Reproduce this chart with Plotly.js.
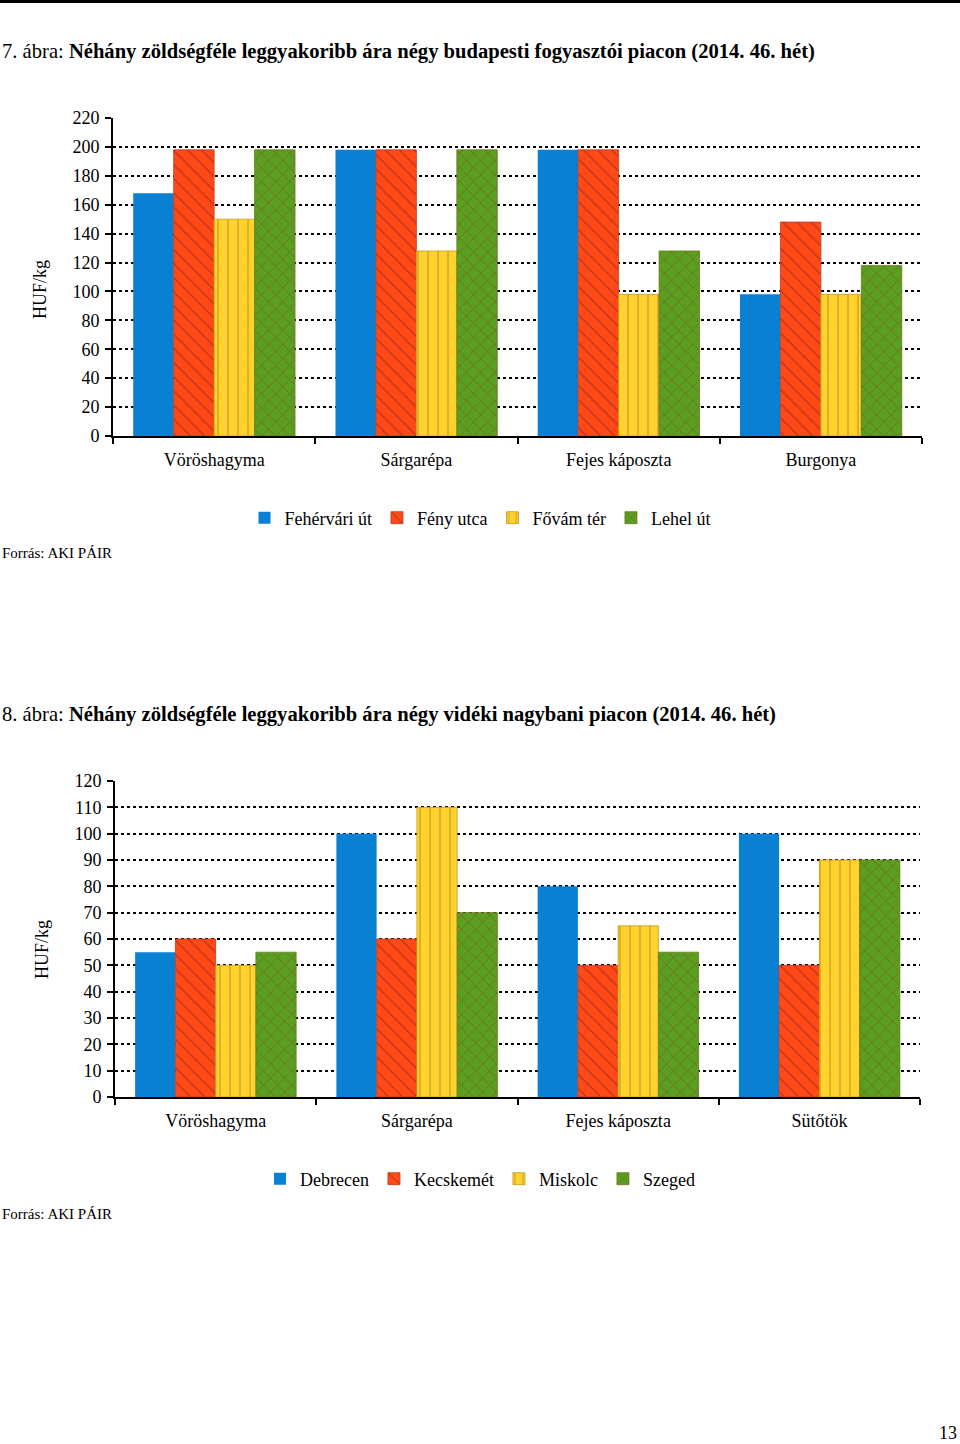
<!DOCTYPE html>
<html>
<head>
<meta charset="utf-8">
<script src="https://cdn.plot.ly/plotly-3.0.1.min.js"></script>
<style>
html,body{margin:0;padding:0;background:#fff;}
#chart{width:960px;height:1444px;}
</style>
</head>
<body>
<div id="chart"></div>
<script>
// Chart 1 data (7. ábra)
const categories1 = ["Vöröshagyma", "Sárgarépa", "Fejes káposzta", "Burgonya"];
const series1Names = ["Fehérvári út", "Fény utca", "Fővám tér", "Lehel út"];
const fehervari = [168, 198, 198, 98];
const fenyUtca = [198, 198, 198, 148];
const fovamTer = [150, 128, 98, 98];
const lehelUt = [198, 198, 128, 118];

// Chart 2 data (8. ábra)
const categories2 = ["Vöröshagyma", "Sárgarépa", "Fejes káposzta", "Sütőtök"];
const series2Names = ["Debrecen", "Kecskemét", "Miskolc", "Szeged"];
const debrecen = [55, 100, 80, 100];
const kecskemet = [60, 60, 50, 50];
const miskolc = [50, 110, 65, 90];
const szeged = [55, 70, 55, 90];

const W = 960, H = 1444;
const FONT = "Liberation Serif, Times New Roman, serif";
const px = v => v / W;
const py = v => 1 - v / H;

const styles = [
  {color: "#0A80D2", pattern: null, line: "#0A80D2"},
  {color: "#FF4A18", pattern: {shape: "\\", fgcolor: "#B8321A", size: 10, solidity: 0.12}, line: "#C0381C"},
  {color: "#FFD22E", pattern: {shape: "|", fgcolor: "#C89A1E", size: 10, solidity: 0.12}, line: "#C89A1E"},
  {color: "#5A9E22", pattern: {shape: "x", fgcolor: "#7A5414", size: 10, solidity: 0.1}, line: "#6A7A1A"}
];

function makeTraces(cats, names, vals, xa, ya, leg) {
  return vals.map((v, i) => {
    const s = styles[i];
    const marker = {color: s.color, line: {color: s.line, width: i === 0 ? 0 : 0.8}};
    if (s.pattern) marker.pattern = Object.assign({fillmode: "replace", bgcolor: s.color}, s.pattern);
    return {
      type: "bar", x: cats, y: v, name: names[i], xaxis: xa, yaxis: ya, legend: leg,
      marker: marker, hoverinfo: "x+y+name"
    };
  });
}

const traces = [].concat(
  makeTraces(categories1, series1Names, [fehervari, fenyUtca, fovamTer, lehelUt], "x", "y", "legend"),
  makeTraces(categories2, series2Names, [debrecen, kecskemet, miskolc, szeged], "x2", "y2", "legend2")
);

const tickFont = {family: FONT, size: 18, color: "#000"};
function xAxis(domX, anchor) {
  return {
    domain: domX, anchor: anchor, type: "category",
    showline: true, linecolor: "#000", linewidth: 2,
    ticks: "outside", tickson: "boundaries", ticklen: 6, tickwidth: 2, tickcolor: "#000",
    showgrid: false, zeroline: false, tickfont: tickFont, ticklabelstandoff: 6, fixedrange: true
  };
}
function yAxis(domY, anchor, range, dtick) {
  return {
    domain: domY, anchor: anchor, range: range, dtick: dtick,
    showline: true, linecolor: "#000", linewidth: 2,
    ticks: "outside", ticklen: 6, tickwidth: 2, tickcolor: "#000",
    showgrid: true, gridcolor: "#000", gridwidth: 2, griddash: "dot",
    zeroline: false, tickfont: tickFont, ticklabelstandoff: 2, fixedrange: true
  };
}

const legendFont = {family: FONT, size: 18, color: "#000"};

const layout = {
  width: W, height: H,
  margin: {l: 0, r: 0, t: 0, b: 0},
  paper_bgcolor: "#fff", plot_bgcolor: "rgba(0,0,0,0)",
  barmode: "group", bargap: 0.2, bargroupgap: 0,
  font: {family: FONT, color: "#000"},
  xaxis: xAxis([px(113), px(922)], "y"),
  yaxis: yAxis([py(436), py(118)], "x", [0, 220], 20),
  xaxis2: xAxis([px(115), px(920)], "y2"),
  yaxis2: yAxis([py(1097), py(781)], "x2", [0, 120], 10),
  legend: {orientation: "h", x: 0.5, xanchor: "center", y: py(518), yanchor: "middle",
           font: legendFont, bgcolor: "rgba(0,0,0,0)", traceorder: "normal", itemwidth: 30},
  legend2: {orientation: "h", x: 0.5, xanchor: "center", y: py(1179), yanchor: "middle",
           font: legendFont, bgcolor: "rgba(0,0,0,0)", traceorder: "normal", itemwidth: 30},
  shapes: [
    {type: "line", xref: "paper", yref: "paper", x0: 0, x1: 1, y0: py(1.5), y1: py(1.5),
     line: {color: "#000", width: 3}}
  ],
  annotations: [
    {xref: "paper", yref: "paper", x: 0, y: py(52), xanchor: "left", yanchor: "middle", showarrow: false,
     text: "7. ábra: <b>Néhány zöldségféle leggyakoribb ára négy budapesti fogyasztói piacon (2014. 46. hét)</b>",
     font: {family: FONT, size: 20.6, color: "#000"}},
    {xref: "paper", yref: "paper", x: 0, y: py(714), xanchor: "left", yanchor: "middle", showarrow: false,
     text: "8. ábra: <b>Néhány zöldségféle leggyakoribb ára négy vidéki nagybani piacon (2014. 46. hét)</b>",
     font: {family: FONT, size: 20.6, color: "#000"}},
    {xref: "paper", yref: "paper", x: px(40), y: py(290), xanchor: "center", yanchor: "middle", showarrow: false,
     text: "HUF/kg", textangle: -90, font: {family: FONT, size: 18, color: "#000"}},
    {xref: "paper", yref: "paper", x: px(42), y: py(950), xanchor: "center", yanchor: "middle", showarrow: false,
     text: "HUF/kg", textangle: -90, font: {family: FONT, size: 18, color: "#000"}},
    {xref: "paper", yref: "paper", x: 0, y: py(553), xanchor: "left", yanchor: "middle", showarrow: false,
     text: "Forrás: AKI PÁIR", font: {family: FONT, size: 15, color: "#000"}},
    {xref: "paper", yref: "paper", x: 0, y: py(1214), xanchor: "left", yanchor: "middle", showarrow: false,
     text: "Forrás: AKI PÁIR", font: {family: FONT, size: 15, color: "#000"}},
    {xref: "paper", yref: "paper", x: px(959), y: py(1433), xanchor: "right", yanchor: "middle", showarrow: false,
     text: "13", font: {family: FONT, size: 18, color: "#000"}}
  ]
};

Plotly.newPlot("chart", traces, layout, {displayModeBar: false, staticPlot: true});
</script>
</body>
</html>
